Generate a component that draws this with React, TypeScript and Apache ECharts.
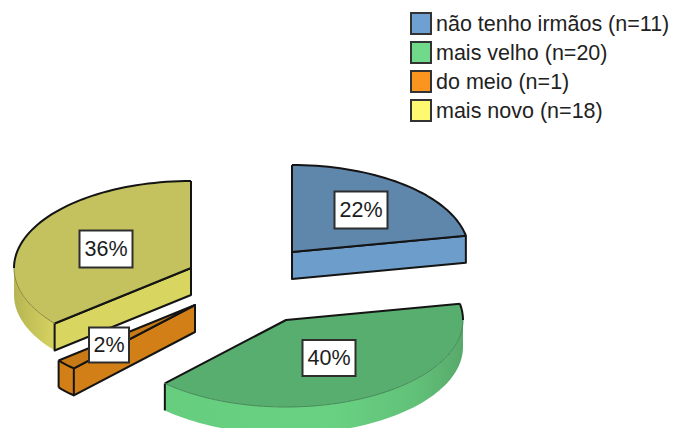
import React, { useEffect, useRef } from "react";
import * as echarts from "echarts";

// Respondents per birth-order group
const groups = ["não tenho irmãos (n=11)", "mais velho (n=20)", "do meio (n=1)", "mais novo (n=18)"];
const counts = [11, 20, 1, 18];

// Colours per group: legend swatch, top face, radial/side face, faint near rim
const swatchColors = ["#6fa0d2", "#70da8a", "#fb951f", "#fdf971"];
const topColors = ["#5f86ab", "#58ae6e", "#c77a15", "#c4c25e"];
const sideColors = ["#6d9ecb", "#66cd7f", "#d17f16", "#d8d561"];
const nearRimColors = ["#3d5a75", "#468a58", "#141414", "#8c8a3f"];

// Ellipse of the tilted pie and its thickness
const RX = 177;
const RY = 87;
const DEPTH = 27;

// Apex of each exploded slice and the centre of its percentage label
const apexes = [[292, 252], [286, 320], [195, 305], [191, 268]];
const labelCentres = [[361, 210], [329, 358], [109, 345], [106, 249]];
const labelSizes = [[53, 37], [53, 36], [40, 35], [53, 37]];
const seriesZ = [2, 4, 3, 2];

const total = counts.reduce((a, b) => a + b, 0);
const INK = "#141414";

function point(cx: number, cy: number, deg: number): number[] {
  const r = (deg * Math.PI) / 180;
  return [cx + RX * Math.sin(r), cy - RY * Math.cos(r)];
}

function arc(cx: number, cy: number, from: number, to: number): number[][] {
  const n = Math.max(2, Math.ceil((to - from) / 2));
  const pts: number[][] = [];
  for (let i = 0; i <= n; i++) pts.push(point(cx, cy, from + ((to - from) * i) / n));
  return pts;
}

function wallFill(i: number): any {
  if (i === 1) {
    return new echarts.graphic.LinearGradient(0, 0, 1, 0, [
      { offset: 0, color: "#66cd7f" },
      { offset: 0.55, color: "#69d282" },
      { offset: 0.85, color: "#61c078" },
      { offset: 1, color: "#58a96b" },
    ]);
  }
  if (i === 3) {
    return new echarts.graphic.LinearGradient(0, 0, 1, 0, [
      { offset: 0, color: "#b7b553" },
      { offset: 1, color: "#d6d360" },
    ]);
  }
  return sideColors[i];
}

function renderSlice(i: number, startDeg: number) {
  return (_params: any, api: any) => {
    const sweep = (api.value(0) / total) * 360;
    const endDeg = startDeg + sweep;
    const [cx, cy] = apexes[i];
    const children: any[] = [];
    const line = (points: number[][], stroke = INK, lineWidth = 2) =>
      children.push({ type: "polyline", shape: { points }, style: { fill: null, stroke, lineWidth, lineJoin: "round" } });

    // Outer wall: the part of the rim that faces the viewer
    const wallFrom = Math.max(startDeg, 90);
    const wallTo = Math.min(endDeg, 270);
    if (wallTo > wallFrom) {
      const rim = arc(cx, cy, wallFrom, wallTo);
      const lower = rim.map(([x, y]) => [x, y + DEPTH]).reverse();
      children.push({ type: "polygon", shape: { points: rim.concat(lower) }, style: { fill: wallFill(i) } });
      if (i === 2) {
        line(lower);
        line([rim[rim.length - 1], lower[0]]);
      }
      if (i === 1) line([rim[rim.length - 1], lower[0]]);
    }

    // Cut face of the slice, when it turns toward the viewer
    const faceDeg = startDeg > 180 ? startDeg : endDeg < 180 ? endDeg : null;
    if (faceDeg !== null) {
      const rimPt = point(cx, cy, faceDeg);
      const pts = [[cx, cy], rimPt, [rimPt[0], rimPt[1] + DEPTH], [cx, cy + DEPTH]];
      children.push({
        type: "polygon",
        shape: { points: pts },
        style: { fill: sideColors[i], stroke: INK, lineWidth: 2, lineJoin: "round" },
      });
    }

    // Top face with its outline: dark on the far rim, faint on the near rim
    const top = arc(cx, cy, startDeg, endDeg);
    children.push({ type: "polygon", shape: { points: [[cx, cy], ...top] }, style: { fill: topColors[i] } });
    line([top[top.length - 1], [cx, cy], top[0]]);
    const far1 = arc(cx, cy, startDeg, Math.min(endDeg, Math.max(startDeg, 90)));
    const far2 = arc(cx, cy, Math.max(startDeg, Math.min(endDeg, 270)), endDeg);
    if (startDeg < 90) line(far1);
    if (endDeg > 270) line(far2);
    if (wallTo > wallFrom) {
      line(arc(cx, cy, wallFrom, wallTo), nearRimColors[i], i === 2 ? 2 : 1);
    }

    // Percentage label in a boxed tag
    const [lx, ly] = labelCentres[i];
    const [lw, lh] = labelSizes[i];
    children.push({
      type: "rect",
      shape: { x: lx - lw / 2, y: ly - lh / 2, width: lw, height: lh },
      style: { fill: "#ffffff", stroke: "#2e2e2e", lineWidth: 2 },
    });
    children.push({
      type: "text",
      style: {
        x: lx,
        y: ly,
        text: Math.round((api.value(0) / total) * 100) + "%",
        fill: "#1c1c1c",
        font: '21.5px "Liberation Sans", Arial, sans-serif',
        align: "center",
        verticalAlign: "middle",
      },
    });
    return { type: "group", children };
  };
}

export default function App() {
  const ref = useRef<HTMLDivElement>(null);

  useEffect(() => {
    document.body.style.margin = "0";
    const chart = echarts.init(ref.current!, undefined, { renderer: "svg" });
    let acc = 0;
    const series = groups.map((name, i) => {
      const start = (acc / total) * 360;
      acc += counts[i];
      return {
        type: "custom",
        name,
        coordinateSystem: "none",
        z: seriesZ[i],
        silent: true,
        itemStyle: { color: swatchColors[i] },
        renderItem: renderSlice(i, start),
        data: [[counts[i]]],
      };
    });
    chart.setOption({
      animation: false,
      backgroundColor: "#ffffff",
      legend: {
        orient: "vertical",
        left: 410,
        top: 12,
        padding: 0,
        icon: "rect",
        itemWidth: 20,
        itemHeight: 21,
        itemGap: 6,
        selectedMode: false,
        itemStyle: { borderColor: "#333333", borderWidth: 2 },
        textStyle: { fontFamily: '"Liberation Sans", Arial, sans-serif', fontSize: 21.5, color: "#222222" },
        data: groups,
      },
      series,
    });
    return () => chart.dispose();
  }, []);

  return <div ref={ref} style={{ width: 675, height: 428 }} />;
}
